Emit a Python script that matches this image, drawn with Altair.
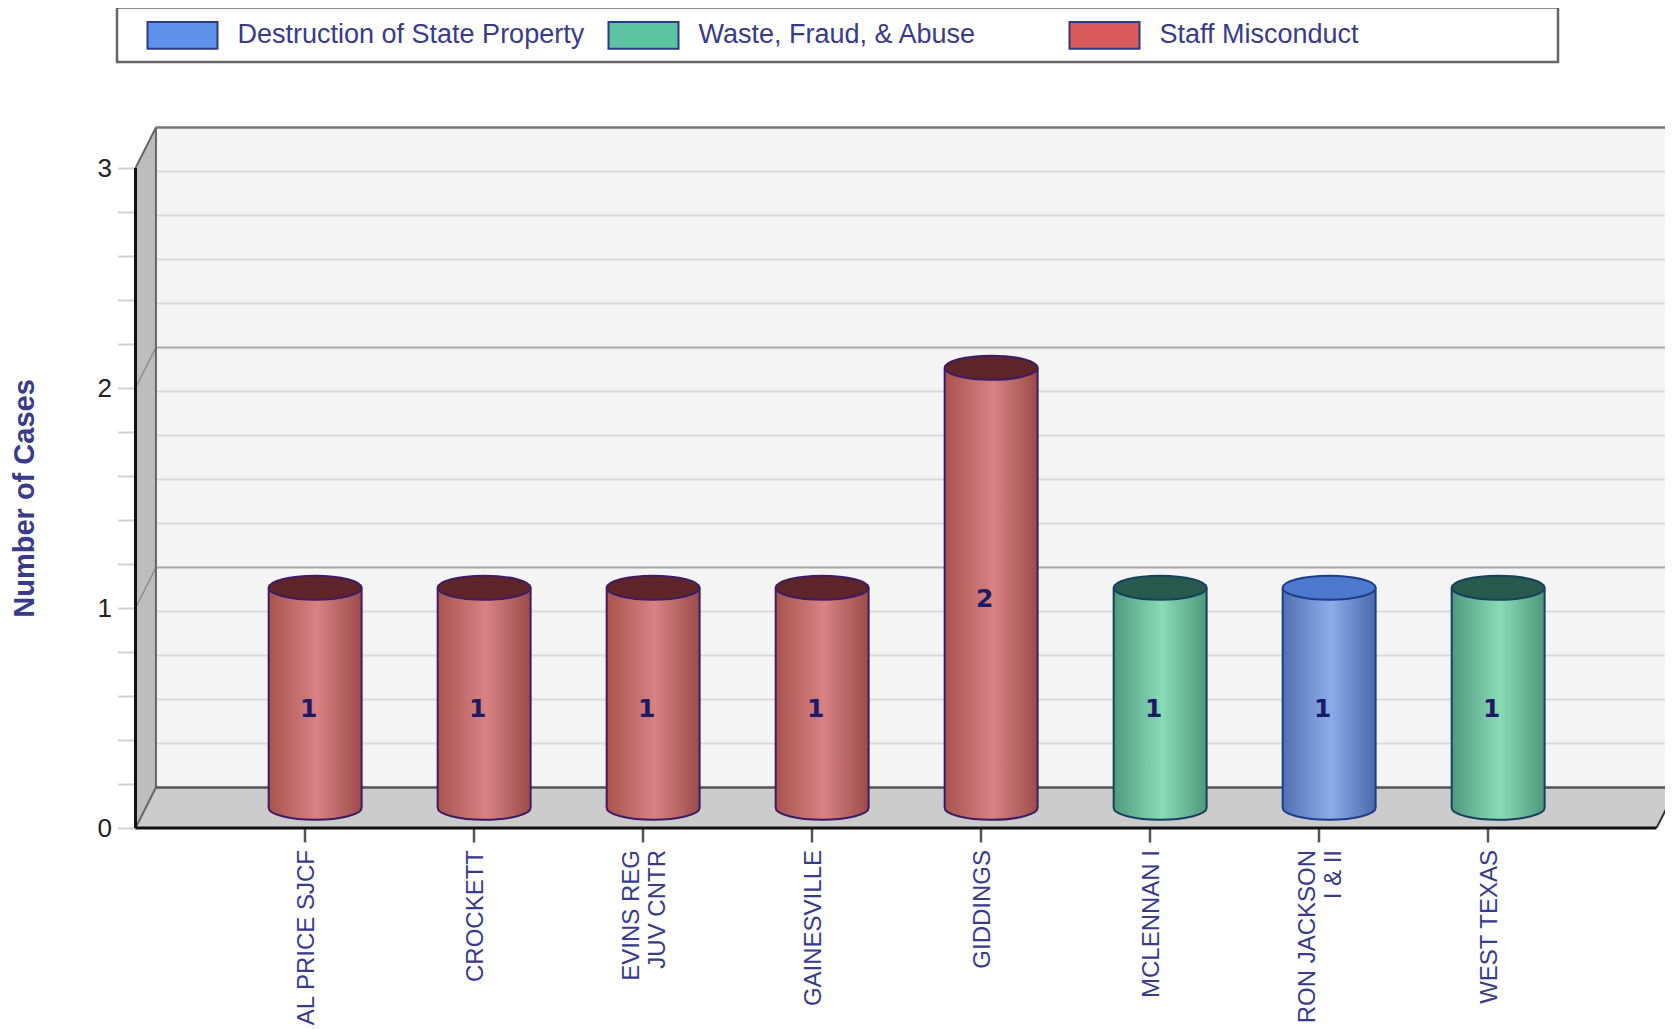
import altair as alt
import pandas as pd

categories = ["AL PRICE SJCF", "CROCKETT", "EVINS REG\nJUV CNTR", "GAINESVILLE", "GIDDINGS",
              "MCLENNAN I", "RON JACKSON\nI & II", "WEST TEXAS"]
positions = [1, 2, 3, 4, 5, 6, 7, 8]
cases = [1, 1, 1, 1, 2, 1, 1, 1]
offense = ["Staff Misconduct", "Staff Misconduct", "Staff Misconduct", "Staff Misconduct", "Staff Misconduct",
           "Waste, Fraud, & Abuse", "Destruction of State Property", "Waste, Fraud, & Abuse"]
legend_names = ["Destruction of State Property", "Waste, Fraud, & Abuse", "Staff Misconduct"]
legend_colors = ["#5f90ea", "#5cc4a0", "#d95a5a"]
y_title = "Number of Cases"
y_ticks = [k / 5 for k in range(0, 16)]

# Layout constants
PLOT_W = 1529.5
XMAX = PLOT_W / 169
YMAX = 702 / 220
BACK_X, BACK_Y = 0.121, 0.184
MID_X, MID_Y = 0.063, 0.092
HALF = 0.275
INK = "#3a3a8a"

X_SCALE = alt.Scale(domain=[0, XMAX], nice=False, zero=False)
Y_SCALE = alt.Scale(domain=[0, YMAX], nice=False, zero=False)
X_AXIS = alt.Axis(values=positions, labels=False, grid=False, domain=False, tickSize=14,
                  tickColor="#555555", tickWidth=2.5, title=None)
Y_AXIS = alt.Axis(values=y_ticks, tickCount=40,
                  labelExpr="datum.value % 1 === 0 ? format(datum.value, 'd') : ''",
                  grid=False, domain=False, tickSize=18, tickColor="#cfcfcf", tickWidth=2,
                  labelPadding=6, labelColor="#222222", labelFontSize=26, labelFont="Liberation Sans",
                  title=y_title, titleFont="Liberation Sans", titleFontSize=29, titleFontWeight="bold",
                  titleColor=INK, titleX=-111, titleY=372, titleBaseline="middle", labelOverlap=False)

def X(f="x"):
    return alt.X(f, type="quantitative", scale=X_SCALE, axis=X_AXIS)

def Y(f="y"):
    return alt.Y(f, type="quantitative", scale=Y_SCALE, axis=Y_AXIS)

def grad(a, b, c):
    return alt.Gradient(gradient="linear", x1=0, x2=1, y1=0, y2=0, stops=[
        alt.GradientStop(color=a, offset=0), alt.GradientStop(color=b, offset=0.52),
        alt.GradientStop(color=c, offset=1)])

styles = {
    "Staff Misconduct": dict(g=("#a9544f", "#d98184", "#9c4c48"), top="#5f2428", edge="#3c1c66"),
    "Waste, Fraud, & Abuse": dict(g=("#4f9a7f", "#8adbb8", "#4e987c"), top="#275a4c", edge="#173f60"),
    "Destruction of State Property": dict(g=("#5170b2", "#8cace9", "#4a68ab"), top="#4c78cd", edge="#1f3c8c"),
}

bars = pd.DataFrame({"cat": categories, "pos": positions, "val": cases, "s": offense})
bars["x"] = bars.pos + MID_X
bars["xa"] = bars.x - HALF
bars["xb"] = bars.x + HALF
bars["y0"] = MID_Y
bars["y1"] = bars.val + MID_Y
bars["ty"] = bars.val / 2 + 0.04
bars["tx"] = bars.pos + 0.025
bars["ly"] = -0.1
bars["lx"] = [p + (2 - 13 * ("\n" in c)) / 169 for p, c in zip(positions, categories)]

def rules(rows, **kw):
    df = pd.DataFrame(rows, columns=["x", "x2", "y", "y2"])
    return alt.Chart(df).mark_rule(**kw).encode(X(), alt.X2("x2"), Y(), alt.Y2("y2"))

wall = alt.Chart(pd.DataFrame({"x": [BACK_X], "x2": [XMAX], "y": [BACK_Y], "y2": [3 + BACK_Y]})).mark_rect(
    fill="#f4f4f4").encode(X(), alt.X2("x2"), Y(), alt.Y2("y2"))

minor_vals = [k / 5 for k in range(1, 15) if k % 5]
minor = rules([[BACK_X, XMAX, v + BACK_Y, v + BACK_Y] for v in minor_vals], color="#d9d9d9", strokeWidth=2)
major = rules([[BACK_X, XMAX, v + BACK_Y, v + BACK_Y] for v in [1, 2]], color="#a8a8a8", strokeWidth=2)
top_line = rules([[BACK_X, XMAX, 3 + BACK_Y, 3 + BACK_Y]], color="#777777", strokeWidth=2.5)

floor = alt.Chart(pd.DataFrame({"y": [0, BACK_Y], "x": [0, BACK_X], "x2": [9, 9 + BACK_X]})).mark_area(
    orient="horizontal", fill="#cccccc", clip=True).encode(X(), alt.X2("x2"), Y())
side = alt.Chart(pd.DataFrame({"x": [0, BACK_X], "y": [0, BACK_Y], "y2": [3, 3 + BACK_Y]})).mark_area(
    orient="vertical", fill="#bdbdbd").encode(X(), Y(), alt.Y2("y2"))

diag = rules([[0, BACK_X, v, v + BACK_Y] for v in [1, 2]], color="#8c8c8c", strokeWidth=1.5)
diag_edge = rules([[0, BACK_X, 3, 3 + BACK_Y], [0, BACK_X, 0, BACK_Y]], color="#666666", strokeWidth=2)
back_edge = rules([[BACK_X, BACK_X, BACK_Y, 3 + BACK_Y]], color="#666666", strokeWidth=2)
floor_back = rules([[BACK_X, XMAX, BACK_Y, BACK_Y]], color="#555555", strokeWidth=2.5, clip=True)
right_edge = rules([[9, 9 + BACK_X, 0, BACK_Y]], color="#333333", strokeWidth=2, clip=True)
front = rules([[0, 0, 0, 3], [0, 9, 0, 0]], color="#111111", strokeWidth=3)

ELLIPSE = ("M-1,0 C-1,-0.143 -0.552,-0.26 0,-0.26 C0.552,-0.26 1,-0.143 1,0 "
           "C1,0.143 0.552,0.26 0,0.26 C-0.552,0.26 -1,0.143 -1,0 Z")
SIZE = 93 ** 2

legend_layer = alt.Chart(bars).mark_point(filled=True, opacity=1).encode(
    X(), Y("y1"),
    size=alt.value(1),
    color=alt.Color("s:N", scale=alt.Scale(domain=legend_names, range=legend_colors),
                    legend=alt.Legend(orient="none", legendX=11, legendY=-127, columns=3, title=None,
                                      symbolType="M-1,-0.38 H1 V0.38 H-1 Z", symbolSize=70 ** 2,
                                      symbolStrokeColor="#2c3a85", symbolStrokeWidth=2, symbolOpacity=1,
                                      labelFont="Liberation Sans", labelFontSize=27, labelColor=INK,
                                      labelOffset=19, labelLimit=500, columnPadding=20, gridAlign="all",
                                      rowPadding=0, padding=0)))

cyl = []
for name, st in styles.items():
    d = bars[bars.s == name]
    g = grad(*st["g"])
    bottom = alt.Chart(d).mark_point(shape=ELLIPSE, size=SIZE, filled=True, fill=g, stroke=st["edge"],
                                     strokeWidth=2, opacity=1).encode(X(), Y("y0"))
    body = alt.Chart(d).mark_rect(fill=g).encode(X("xa"), alt.X2("xb"), Y("y0"), alt.Y2("y1"))
    left = alt.Chart(d).mark_rule(color=st["edge"], strokeWidth=2).encode(X("xa"), Y("y0"), alt.Y2("y1"))
    right = alt.Chart(d).mark_rule(color=st["edge"], strokeWidth=2).encode(X("xb"), Y("y0"), alt.Y2("y1"))
    top = alt.Chart(d).mark_point(shape=ELLIPSE, size=SIZE, filled=True, fill=st["top"], stroke=st["edge"],
                                  strokeWidth=2, opacity=1).encode(X(), Y("y1"))
    cyl += [bottom, body, left, right, top]

values = alt.Chart(bars).mark_text(font="DejaVu Sans", fontWeight="bold", fontSize=25, color="#1c1c66").encode(
    X("tx"), Y("ty"), text="val:N")
labels = alt.Chart(bars).mark_text(font="Liberation Sans", fontSize=24, color=INK, angle=270, align="right",
                                   baseline="middle", lineBreak="\n", lineHeight=26).encode(
    X("lx"), Y("ly"), text="cat:N")

box = alt.Chart(pd.DataFrame({"x": [-18.5 / 169], "x2": [1422.5 / 169], "y": [820.5 / 220], "y2": [766 / 220]})).mark_rect(
    fill="white", stroke="#666666", strokeWidth=2.5).encode(X(), alt.X2("x2"), Y(), alt.Y2("y2"))

chart = alt.layer(
    wall, minor, major, top_line, floor, side, diag, diag_edge, back_edge, floor_back, right_edge, front,
    box, legend_layer, *cyl, values, labels
).properties(
    width=PLOT_W, height=702, background="white",
    autosize=alt.AutoSizeParams(type="none"),
    padding={"left": 127.5, "top": 118, "right": 0, "bottom": 198},
).configure_view(stroke=None)

chart.save("out.html", embed_options={"renderer": "svg", "actions": False})
